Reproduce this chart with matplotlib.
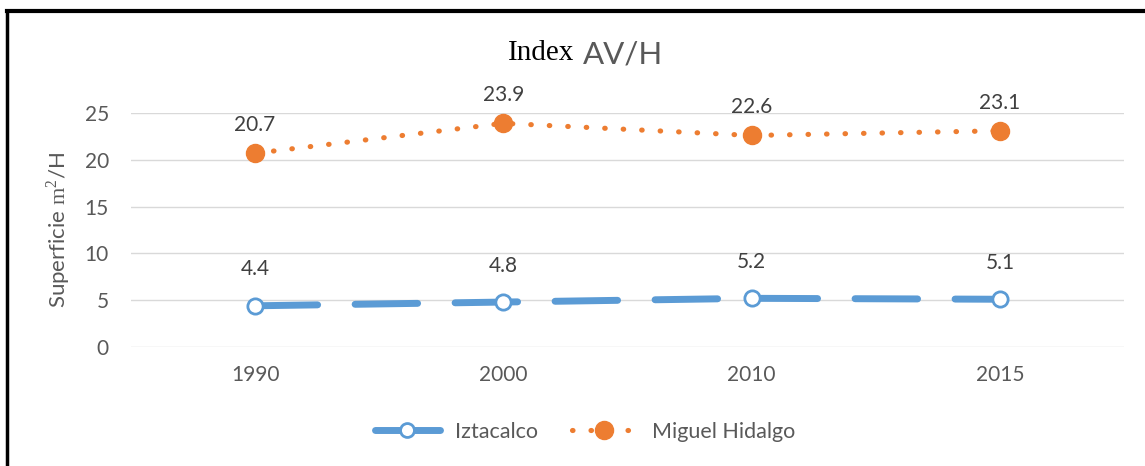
import matplotlib
matplotlib.use("Agg")

import matplotlib.pyplot as plt
from matplotlib.lines import Line2D

years = ["1990", "2000", "2010", "2015"]
iztacalco = [4.4, 4.8, 5.2, 5.1]
miguel_hidalgo = [20.7, 23.9, 22.6, 23.1]
y_ticks = [0, 5, 10, 15, 20, 25]

BLUE = "#5B9BD5"
ORANGE = "#ED7D31"
GRAY = "#595959"

plt.rcParams["font.family"] = ["Lato", "DejaVu Sans"]
plt.rcParams["mathtext.fontset"] = "custom"
plt.rcParams["mathtext.rm"] = "Liberation Serif"

fig = plt.figure(figsize=(11.45, 4.66), dpi=100)
ax = fig.add_axes([0.1144, 0.2554, 0.8673, 0.5021])

x = list(range(len(years)))

ax.plot(x, iztacalco, color=BLUE, lw=5, dashes=(9, 5.4),
        marker="o", ms=11, mfc="white", mec=BLUE, mew=2,
        solid_capstyle="round", dash_capstyle="round", clip_on=False, zorder=3)
ax.plot(x, miguel_hidalgo, color=ORANGE, lw=3.7, dashes=(0.1, 3.5),
        marker="o", ms=13, mfc=ORANGE, mec=ORANGE,
        dash_capstyle="round", clip_on=False, zorder=3)

for xi, v in zip(x, iztacalco):
    ax.annotate(f"{v}", (xi, v), xytext=(0, 19), textcoords="offset points",
                ha="center", va="bottom", fontsize=15, color="#404040")
for xi, v in zip(x, miguel_hidalgo):
    ax.annotate(f"{v}", (xi, v), xytext=(0, 13), textcoords="offset points",
                ha="center", va="bottom", fontsize=15, color="#404040")

ax.set_xlim(-0.5, len(years) - 0.5)
ax.set_ylim(0, 25)
ax.set_yticks(y_ticks)
ax.set_xticks(x)
ax.set_xticklabels(years)
ax.tick_params(axis="both", length=0, labelsize=15, colors=GRAY)
ax.tick_params(axis="x", pad=13)
ax.tick_params(axis="y", pad=16)
ax.grid(axis="y", color="#D9D9D9", lw=1)
ax.set_axisbelow(True)
for s in ax.spines.values():
    s.set_visible(False)

ax.set_ylabel(r"Superficie $\mathrm{m}^{2}$/H", fontsize=16, color=GRAY, labelpad=8)

fig.text(0.502, 0.887, "Index", family="Liberation Serif", fontsize=21,
         color="black", ha="right", va="center")
fig.text(0.509, 0.883, "AV/H", fontsize=22.5, color=GRAY, ha="left", va="center")

handles = [
    Line2D([], [], color=BLUE, lw=5, marker="o", ms=10, mfc="white",
           mec=BLUE, mew=2, solid_capstyle="round"),
    Line2D([], [], color=ORANGE, lw=3.7, dashes=(0.1, 3.5), marker="o",
           ms=13, mfc=ORANGE, mec=ORANGE, dash_capstyle="round"),
]
fig.legend(handles, ["Iztacalco", "Miguel Hidalgo"], loc="center",
           bbox_to_anchor=(0.511, 0.073), ncol=2, frameon=False,
           fontsize=15.5, labelcolor=GRAY, handlelength=3.0,
           handletextpad=0.7, columnspacing=1.6)

# outer frame (top and left edges visible in the reference)
fig.add_artist(Line2D([0.006, 1.0], [0.976, 0.976], color="black", lw=3,
                      transform=fig.transFigure))
fig.add_artist(Line2D([0.006, 0.006], [0.0, 0.976], color="black", lw=2.5,
                      transform=fig.transFigure))

fig.savefig("out.png", dpi=100)
